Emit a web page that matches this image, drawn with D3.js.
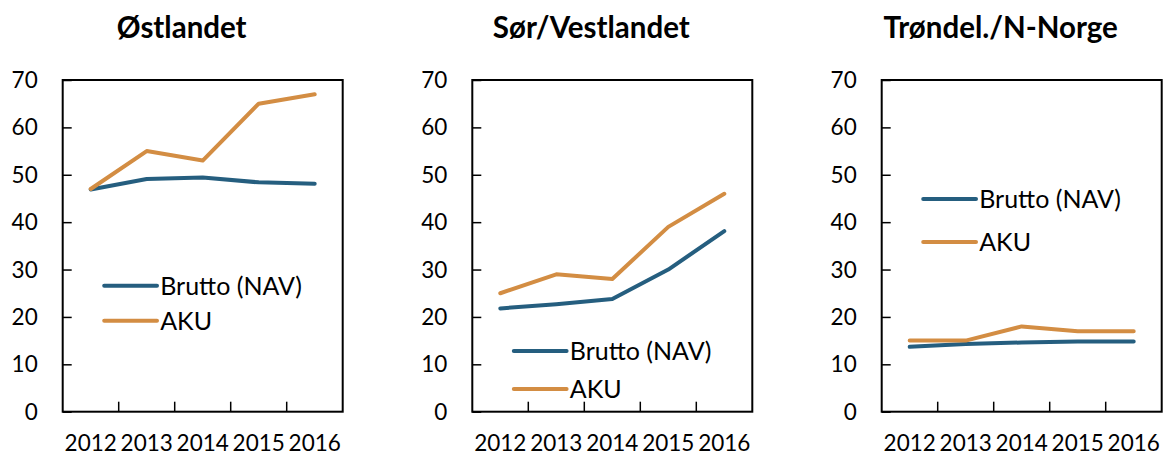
<!DOCTYPE html>
<html><head><meta charset="utf-8">
<script src="https://cdn.jsdelivr.net/npm/d3@7"></script>
<style>body{margin:0;background:#fff;} svg{display:block;}</style>
</head><body>
<svg id="c" width="1163" height="455"></svg>
<script>
const years = ["2012","2013","2014","2015","2016"];
const regions = ["Østlandet","Sør/Vestlandet","Trøndel./N-Norge"];
const seriesNames = ["Brutto (NAV)","AKU"];
const bruttoOst = [46.9, 49.1, 49.4, 48.4, 48.1];
const akuOst = [47, 55, 53, 65, 67];
const bruttoSV = [21.8, 22.7, 23.8, 30.0, 38.1];
const akuSV = [25, 29, 28, 39, 46];
const bruttoTN = [13.7, 14.3, 14.6, 14.8, 14.8];
const akuTN = [15, 15, 18, 17, 17];
const yTicks = [0,10,20,30,40,50,60,70];

const panelData = [[bruttoOst, akuOst],[bruttoSV, akuSV],[bruttoTN, akuTN]];
const colors = ["#255e7f","#d38d43"];
const lefts = [62.7, 472.3, 881.7];
const legendY = [[285.7,320.7],[351,389],[199,242]];
const W = 280, plotTop = 80, plotBottom = 411.7;
const font = "Lato, 'Open Sans', sans-serif";

const svg = d3.select("#c");
const y = d3.scaleLinear().domain([0,70]).range([plotBottom, plotTop]);

panelData.forEach((pd, i) => {
  const L = lefts[i];
  const x = d3.scaleBand().domain(years).range([L, L + W]);
  const g = svg.append("g");

  g.append("text").attr("x", L + W/2 - 21).attr("y", 38)
    .attr("text-anchor","middle").attr("font-family",font).attr("font-weight","bold")
    .attr("font-size",29.5).attr("fill","#000").text(regions[i]);

  const ya = g.append("g").attr("transform",`translate(${L},0)`)
    .call(d3.axisRight(y).tickValues(yTicks).tickSize(9).tickFormat(""));
  ya.select(".domain").remove();
  ya.selectAll("line").attr("stroke","#000").attr("stroke-width",1.5);
  g.selectAll(".ylab").data(yTicks).enter().append("text")
    .attr("x", L - 25).attr("y", d => y(d)).attr("dy","0.36em")
    .attr("text-anchor","end").attr("font-family",font).attr("font-size",22.5).attr("fill","#000")
    .text(d => d);

  const bounds = years.slice(1).map(yr => x(yr));
  g.selectAll(".xt").data(bounds).enter().append("line")
    .attr("x1", d => d).attr("x2", d => d).attr("y1", plotBottom).attr("y2", plotBottom - 10)
    .attr("stroke","#000").attr("stroke-width",1.5);
  g.selectAll(".xlab").data(years).enter().append("text")
    .attr("x", d => x(d) + x.bandwidth()/2).attr("y", 451)
    .attr("text-anchor","middle").attr("font-family",font).attr("font-size",22.5).attr("fill","#000")
    .text(d => d);

  g.append("rect").attr("x",L).attr("y",plotTop).attr("width",W).attr("height",plotBottom-plotTop)
    .attr("fill","none").attr("stroke","#000").attr("stroke-width",2);

  const line = d3.line().x((d,j) => x(years[j]) + x.bandwidth()/2).y(d => y(d));
  pd.forEach((s, k) => {
    g.append("path").datum(s).attr("d", line).attr("fill","none")
      .attr("stroke", colors[k]).attr("stroke-width",4)
      .attr("stroke-linejoin","round").attr("stroke-linecap","round");
  });

  seriesNames.forEach((nm, k) => {
    const ly = legendY[i][k];
    g.append("line").attr("x1", L + 41.5).attr("x2", L + 94.3).attr("y1", ly).attr("y2", ly)
      .attr("stroke", colors[k]).attr("stroke-width",4).attr("stroke-linecap","round");
    g.append("text").attr("x", L + 97.5).attr("y", ly).attr("dy","0.36em")
      .attr("font-family",font).attr("font-size",25).attr("fill","#000").text(nm);
  });
});
</script>
</body></html>
